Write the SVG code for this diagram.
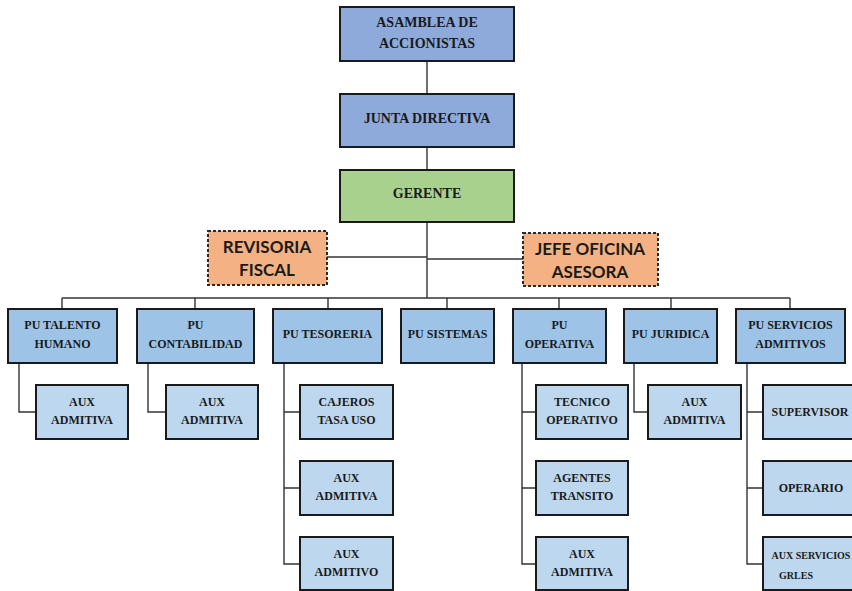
<svg xmlns="http://www.w3.org/2000/svg" width="852" height="591" viewBox="0 0 852 591">
<style>
.b{stroke:#1a1a1a;stroke-width:2}
.top{fill:#8eaadb}
.ger{fill:#a9d18e}
.pu{fill:#9dc3e6}
.ch{fill:#bdd7ee}
.or{fill:#f4b183;stroke:#2a2a2a;stroke-width:2;stroke-dasharray:3 2}
.t{font-family:"Liberation Serif","Times New Roman",serif;font-weight:bold;fill:#1a1a1a;text-anchor:middle}
.t14{font-size:14px}
.t12{font-size:12px}
.t10{font-size:10px}
.c{font-family:Lato,"Open Sans",sans-serif;font-weight:bold;font-size:17px;fill:#1a1a1a;text-anchor:middle}
.ln{fill:none;stroke:#333;stroke-width:1.4}
</style>
<rect width="852" height="591" fill="#fff"/>
<g id="connectors" class="ln">
<path d="M427 61V298"/>
<path d="M327 257H427"/>
<path d="M427 259H523"/>
<path d="M62 298H790"/>
<path d="M62 298V309M195 298V309M328 298V309M447 298V309M559 298V309M671 298V309M790 298V309"/>
<path d="M19 363V412H36"/>
<path d="M148 363V412H166"/>
<path d="M284 363V564H300M284 412H300M284 488H300"/>
<path d="M522 363V564H536M522 412H536M522 488H536"/>
<path d="M634 363V412H648"/>
<path d="M747 363V564H763M747 412H763M747 488H763"/>
</g>
<g id="asamblea"><rect class="b top" x="340" y="7" width="174" height="54"/><text class="t t14" x="427" y="27">ASAMBLEA DE</text><text class="t t14" x="427" y="48">ACCIONISTAS</text></g>
<g id="junta"><rect class="b top" x="340" y="94" width="174" height="53"/><text class="t t14" x="427" y="123">JUNTA DIRECTIVA</text></g>
<g id="gerente"><rect class="b ger" x="340" y="170" width="174" height="52"/><text class="t t14" x="427" y="198">GERENTE</text></g>
<g id="revisoria"><rect class="or" x="208" y="231" width="119" height="54"/><text class="c" x="267" y="253">REVISORIA</text><text class="c" x="267" y="276">FISCAL</text></g>
<g id="jefe"><rect class="or" x="523" y="233" width="135" height="53"/><text class="c" x="590" y="255">JEFE OFICINA</text><text class="c" x="590" y="278">ASESORA</text></g>
<g id="pu-talento"><rect class="b pu" x="8" y="309" width="109" height="54"/><text class="t t12" x="62.5" y="329">PU TALENTO</text><text class="t t12" x="62.5" y="348">HUMANO</text></g>
<g id="pu-contabilidad"><rect class="b pu" x="137" y="309" width="117" height="54"/><text class="t t12" x="195.5" y="329">PU</text><text class="t t12" x="195.5" y="348">CONTABILIDAD</text></g>
<g id="pu-tesoreria"><rect class="b pu" x="273" y="309" width="109" height="54"/><text class="t t12" x="327.5" y="338">PU TESORERIA</text></g>
<g id="pu-sistemas"><rect class="b pu" x="401" y="309" width="93" height="54"/><text class="t t12" x="447.5" y="338">PU SISTEMAS</text></g>
<g id="pu-operativa"><rect class="b pu" x="513" y="309" width="93" height="54"/><text class="t t12" x="559.5" y="329">PU</text><text class="t t12" x="559.5" y="348">OPERATIVA</text></g>
<g id="pu-juridica"><rect class="b pu" x="624" y="309" width="93" height="54"/><text class="t t12" x="670.5" y="338">PU JURIDICA</text></g>
<g id="pu-servicios"><rect class="b pu" x="736" y="309" width="109" height="54"/><text class="t t12" x="790.5" y="329">PU SERVICIOS</text><text class="t t12" x="790.5" y="348">ADMITIVOS</text></g>
<g id="aux-talento"><rect class="b ch" x="36" y="385" width="92" height="54"/><text class="t t12" x="82" y="406">AUX</text><text class="t t12" x="82" y="424">ADMITIVA</text></g>
<g id="aux-contabilidad"><rect class="b ch" x="166" y="385" width="92" height="54"/><text class="t t12" x="212" y="406">AUX</text><text class="t t12" x="212" y="424">ADMITIVA</text></g>
<g id="cajeros"><rect class="b ch" x="300" y="385" width="93" height="54"/><text class="t t12" x="346.5" y="406">CAJEROS</text><text class="t t12" x="346.5" y="424">TASA USO</text></g>
<g id="aux-tesoreria-a"><rect class="b ch" x="300" y="461" width="93" height="54"/><text class="t t12" x="346.5" y="482">AUX</text><text class="t t12" x="346.5" y="500">ADMITIVA</text></g>
<g id="aux-tesoreria-o"><rect class="b ch" x="300" y="537" width="93" height="53"/><text class="t t12" x="346.5" y="558">AUX</text><text class="t t12" x="346.5" y="576">ADMITIVO</text></g>
<g id="tecnico"><rect class="b ch" x="536" y="385" width="92" height="54"/><text class="t t12" x="582" y="406">TECNICO</text><text class="t t12" x="582" y="424">OPERATIVO</text></g>
<g id="agentes"><rect class="b ch" x="536" y="461" width="92" height="54"/><text class="t t12" x="582" y="482">AGENTES</text><text class="t t12" x="582" y="500">TRANSITO</text></g>
<g id="aux-operativa"><rect class="b ch" x="536" y="537" width="92" height="53"/><text class="t t12" x="582" y="558">AUX</text><text class="t t12" x="582" y="576">ADMITIVA</text></g>
<g id="aux-juridica"><rect class="b ch" x="648" y="385" width="93" height="54"/><text class="t t12" x="694.5" y="406">AUX</text><text class="t t12" x="694.5" y="424">ADMITIVA</text></g>
<g id="supervisor"><rect class="b ch" x="763" y="385" width="95" height="54"/><text class="t t12" x="810" y="416">SUPERVISOR</text></g>
<g id="operario"><rect class="b ch" x="763" y="461" width="95" height="54"/><text class="t t12" x="811" y="492">OPERARIO</text></g>
<g id="aux-servicios"><rect class="b ch" x="763" y="537" width="95" height="53"/><text class="t t10" x="811" y="559">AUX SERVICIOS</text><text class="t t10" x="796" y="579">GRLES</text></g>
</svg>
